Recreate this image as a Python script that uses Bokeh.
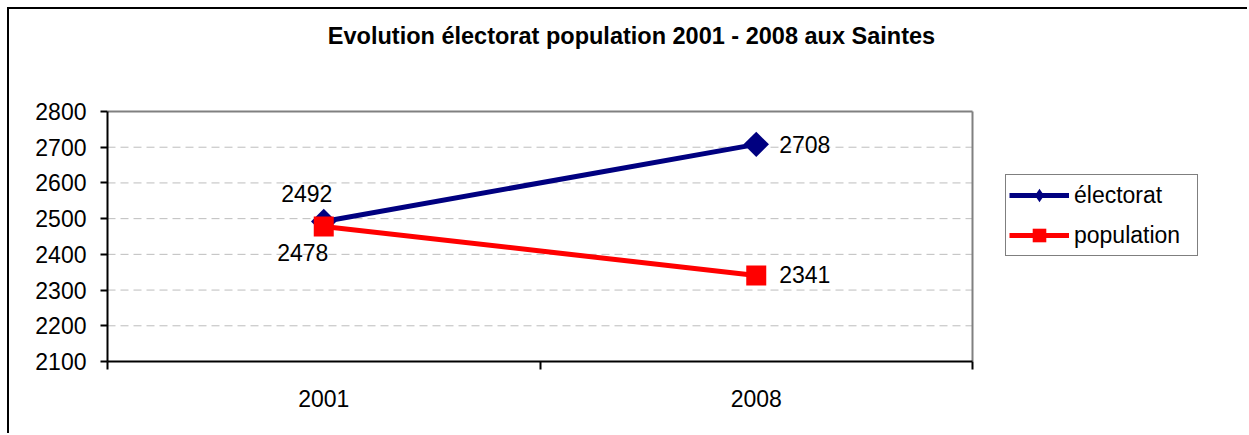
import math
from bokeh.plotting import figure
from bokeh.models import Range1d, FixedTicker, Legend, LegendItem, Label
from bokeh.core.properties import value
from bokeh.embed import file_html
from bokeh.resources import INLINE

# ---- data ----
years = ["2001", "2008"]
electorat = [2492, 2708]
population = [2478, 2341]
y_ticks = [2100, 2200, 2300, 2400, 2500, 2600, 2700, 2800]
series_names = ["électorat", "population"]
title_text = "Evolution électorat population 2001 - 2008 aux Saintes"

# ---- styles / layout ----
FONT = "Liberation Sans"
FS = "23px"
NAVY = "#000080"
RED = "#FF0000"
GRID = "#BDBDBD"
FRAME_GRAY = "#808080"

W, H = 1240, 426
LEFT, BOTTOM = 98, 74
AREA_W, AREA_H = 865, 250     # pixel size of the plotting area
AREA_TOP = 102                # pixels from canvas top to plotting-area top
FRAME_W = W - LEFT            # frame reaches the right edge (legend lives there)
FRAME_H = H - BOTTOM          # frame reaches the top edge (title lives there)

n = len(years)
xs = [i + 0.5 for i in range(n)]
y0, y1 = y_ticks[0], y_ticks[-1]
px_per_y = AREA_H / (y1 - y0)
x_end = n * FRAME_W / AREA_W
y_end = y0 + FRAME_H / px_per_y

p = figure(width=W, height=H, output_backend="svg", toolbar_location=None,
           x_range=Range1d(0, x_end), y_range=Range1d(y0, y_end),
           min_border_left=LEFT, min_border_right=0, min_border_top=0,
           min_border_bottom=BOTTOM)
p.styles = {"border-left": "2px solid black", "border-top": "2px solid black",
            "margin-left": "7px", "margin-top": "7px"}
p.background_fill_color = "white"
p.border_fill_color = "white"
p.outline_line_color = None

# title (placed above the plotting area)
title_x = (631 - 107) / AREA_W * n
title_y = y1 + 75.5 / px_per_y
p.add_layout(Label(x=title_x, y=title_y, text=title_text, text_align="center",
                   text_baseline="middle", text_font=FONT, text_font_size="23.5px",
                   text_font_style="bold", text_color="black"))

# y axis
p.yaxis.ticker = FixedTicker(ticks=y_ticks)
p.yaxis.bounds = (y0, y1)
p.yaxis.major_tick_out = 7
p.yaxis.major_tick_in = 0
p.yaxis.major_tick_line_color = "black"
p.yaxis.major_tick_line_width = 2
p.yaxis.minor_tick_line_color = None
p.yaxis.axis_line_color = "black"
p.yaxis.axis_line_width = 2
p.yaxis.major_label_text_font = FONT
p.yaxis.major_label_text_font_size = FS
p.yaxis.major_label_text_color = "black"
p.yaxis.major_label_standoff = 14

# x axis
p.xaxis.ticker = FixedTicker(ticks=xs, minor_ticks=list(range(n + 1)))
p.xaxis.major_label_overrides = {x: y for x, y in zip(xs, years)}
p.xaxis.bounds = (0, n)
p.xaxis.major_tick_line_color = None
p.xaxis.minor_tick_out = 8
p.xaxis.minor_tick_in = 0
p.xaxis.minor_tick_line_color = "black"
p.xaxis.minor_tick_line_width = 2
p.xaxis.axis_line_color = "black"
p.xaxis.axis_line_width = 2
p.xaxis.major_label_text_font = FONT
p.xaxis.major_label_text_font_size = FS
p.xaxis.major_label_text_color = "black"
p.xaxis.major_label_standoff = 20

# grid (drawn across the category area only)
p.xgrid.grid_line_color = None
p.ygrid.grid_line_color = None
inner = y_ticks[1:-1]
p.segment(x0=[0] * len(inner), y0=inner, x1=[n] * len(inner), y1=inner,
          line_color=GRID, line_dash="8 5", line_width=1)
# plot-area border (top and right)
p.segment(x0=[0, n], y0=[y1, y0], x1=[n, n], y1=[y1, y1],
          line_color=FRAME_GRAY, line_width=2)

# legend-only diamond proxy (hidden under the real markers)
d1 = p.scatter([xs[0]], [electorat[0]], marker="diamond", size=10,
               fill_color=NAVY, line_color=None)

# series
r1 = p.line(xs, electorat, line_color=NAVY, line_width=5)
m1 = p.scatter(xs, electorat, marker="square", angle=math.pi / 4, size=18,
               fill_color=NAVY, line_color=None)
r2 = p.line(xs, population, line_color=RED, line_width=5)
m2 = p.scatter(xs, population, marker="square", size=20, fill_color=RED, line_color=None)

# data labels
lbl = dict(text_font=value(FONT), text_font_size=FS, text_color="black",
           text_baseline="middle")
p.text(x=[xs[0]], y=[electorat[0]], text=[str(electorat[0])],
       x_offset=-17, y_offset=-28, text_align="center", **lbl)
p.text(x=[xs[0]], y=[population[0]], text=[str(population[0])],
       x_offset=-21, y_offset=26, text_align="center", **lbl)
p.text(x=[xs[1]], y=[electorat[1]], text=[str(electorat[1])],
       x_offset=23, y_offset=0, text_align="left", **lbl)
p.text(x=[xs[1]], y=[population[1]], text=[str(population[1])],
       x_offset=23, y_offset=-1, text_align="left", **lbl)

legend = Legend(items=[LegendItem(label=series_names[0], renderers=[r1, d1]),
                       LegendItem(label=series_names[1], renderers=[r2, m2])],
                location=(898, 105), orientation="vertical",
                padding=3, spacing=6, margin=0,
                glyph_width=60, glyph_height=34, label_height=34, label_standoff=5,
                label_width=120,
                label_text_font=FONT, label_text_font_size=FS, label_text_color="black",
                border_line_color="black", border_line_width=1,
                background_fill_color="white", background_fill_alpha=1)
p.add_layout(legend)

open("out.html", "w").write(file_html(p, INLINE))
